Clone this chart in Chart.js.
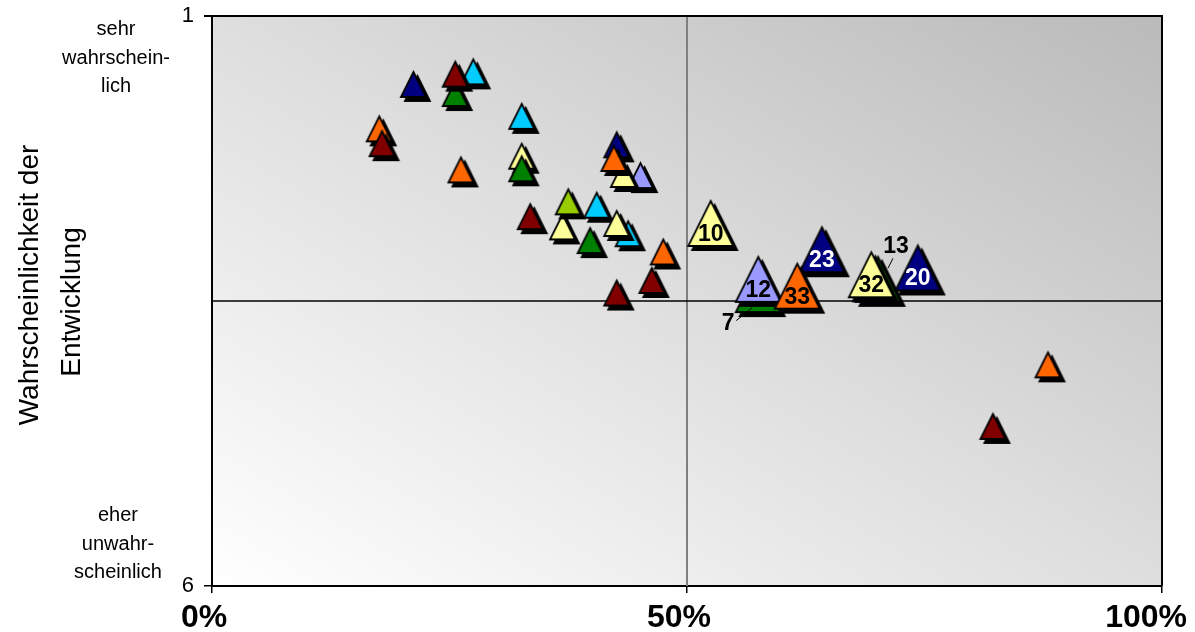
<!DOCTYPE html>
<html>
<head>
<meta charset="utf-8">
<script src="https://cdn.jsdelivr.net/npm/chart.js@4.4.0/dist/chart.umd.min.js"></script>
<style>
  html, body { margin: 0; padding: 0; background: #ffffff; }
  #chart { display: block; }
</style>
</head>
<body>
<canvas id="chart" width="1195" height="632"></canvas>
<script>
// Share of development (x, %) against probability rating (y: 1 = sehr wahrscheinlich, 6 = eher unwahrscheinlich)

const xTicks = [0, 50, 100];
const yTicks = [1, 6];
const midX = 50;
const midY = 3.5;

// Small markers, one series per colour
const darkRedX = [25.6, 17.9, 33.5, 46.3, 42.6, 82.2];
const darkRedY = [1.51, 2.12, 2.76, 3.32, 3.43, 4.60];

const greenX = [25.6, 32.6, 39.8];
const greenY = [1.68, 2.34, 2.97];

const orangeX = [17.6, 26.2, 42.3, 47.5, 88.0];
const orangeY = [1.99, 2.35, 2.25, 3.07, 4.06];

const navyX = [21.2, 42.6];
const navyY = [1.60, 2.13];

const yellowGreenX = [37.5];
const yellowGreenY = [2.63];

const paleYellowX = [32.6, 43.3, 36.9, 42.6];
const paleYellowY = [2.23, 2.39, 2.85, 2.82];

const cyanX = [27.5, 32.6, 40.5, 43.8];
const cyanY = [1.49, 1.88, 2.66, 2.91];

const lavenderX = [45.1];
const lavenderY = [2.40];

// Numbered key items, drawn larger
const keyLabels = ['7', '12', '23', '33', '13', '32', '20', '10'];
const keyX = [57.5, 57.5, 64.2, 61.6, 70.1, 69.4, 74.3, 52.5];
const keyY = [3.40, 3.31, 3.05, 3.37, 3.31, 3.27, 3.21, 2.82];

// Styles
const C = {
  darkRed: '#800000', green: '#008000', orange: '#ff6600', navy: '#000080',
  yellowGreen: '#99cc00', paleYellow: '#ffff99', cyan: '#00ccff', lavender: '#9999ff'
};
const keyColors = [C.green, C.lavender, C.navy, C.orange, C.green, C.paleYellow, C.navy, C.paleYellow];
const keyTextColors = ['#000', '#000', '#fff', '#000', '#000', '#000', '#fff', '#000'];
const FONT = "'Liberation Sans', Arial, Helvetica, sans-serif";

// Triangle marker with a black drop shadow, rendered to an offscreen canvas
function triangleMarker(fill, w, h) {
  const off = 4, lw = 1.8, pad = off + 4;
  const cw = Math.ceil(w + 2 * pad), ch = Math.ceil(h + 2 * pad);
  const c = document.createElement('canvas');
  c.width = cw; c.height = ch;
  const g = c.getContext('2d');
  const cx = cw / 2, cy = ch / 2;
  const path = (dx, dy) => {
    g.beginPath();
    g.moveTo(cx + dx, cy - h / 2 + dy);
    g.lineTo(cx + w / 2 + dx, cy + h / 2 + dy);
    g.lineTo(cx - w / 2 + dx, cy + h / 2 + dy);
    g.closePath();
  };
  g.lineJoin = 'miter';
  g.lineWidth = lw;
  g.strokeStyle = '#000';
  path(off, off);
  g.fillStyle = '#000';
  g.fill();
  g.stroke();
  path(0, 0);
  g.fillStyle = fill;
  g.fill();
  g.stroke();
  return c;
}

const toPoints = (xs, ys) => xs.map((x, i) => ({ x: x, y: ys[i] }));

function smallSeries(name, xs, ys, color) {
  return {
    label: name,
    data: toPoints(xs, ys),
    pointStyle: triangleMarker(color, 25, 25),
    pointRadius: 12,
    showLine: false,
    clip: false
  };
}

const keyMarkers = keyColors.map(col => triangleMarker(col, 45, 45));

const datasets = [
  smallSeries('darkRed', darkRedX, darkRedY, C.darkRed),
  smallSeries('green', greenX, greenY, C.green),
  smallSeries('orange', orangeX, orangeY, C.orange),
  smallSeries('navy', navyX, navyY, C.navy),
  smallSeries('yellowGreen', yellowGreenX, yellowGreenY, C.yellowGreen),
  smallSeries('paleYellow', paleYellowX, paleYellowY, C.paleYellow),
  smallSeries('cyan', cyanX, cyanY, C.cyan),
  smallSeries('lavender', lavenderX, lavenderY, C.lavender),
  {
    label: 'key',
    data: toPoints(keyX, keyY),
    pointStyle: ctx => keyMarkers[ctx.dataIndex],
    pointRadius: 22,
    showLine: false,
    clip: false
  }
];

// Plot background gradient, quadrant lines and frame
const backdrop = {
  id: 'backdrop',
  beforeDraw(chart) {
    const { ctx, chartArea: a } = chart;
    const w = a.right - a.left, h = a.bottom - a.top;
    const cx = (a.left + a.right) / 2, cy = (a.top + a.bottom) / 2;
    const L = Math.hypot(w, h);
    const ux = h / L, uy = -w / L, d = w * h / L;
    const grad = ctx.createLinearGradient(cx - ux * d, cy - uy * d, cx + ux * d, cy + uy * d);
    grad.addColorStop(0, '#ffffff');
    grad.addColorStop(0.5, '#dedede');
    grad.addColorStop(1, '#bababa');
    ctx.save();
    ctx.fillStyle = grad;
    ctx.fillRect(a.left, a.top, w, h);
    ctx.restore();
  },
  beforeDatasetsDraw(chart) {
    const { ctx, chartArea: a, scales } = chart;
    const px = scales.x.getPixelForValue(midX);
    const py = scales.y.getPixelForValue(midY);
    ctx.save();
    ctx.strokeStyle = '#7f7f7f';
    ctx.lineWidth = 2;
    ctx.beginPath();
    ctx.moveTo(px, a.top);
    ctx.lineTo(px, a.bottom);
    ctx.stroke();
    ctx.strokeStyle = '#000';
    ctx.lineWidth = 1.5;
    ctx.beginPath();
    ctx.moveTo(a.left, py);
    ctx.lineTo(a.right, py);
    ctx.stroke();
    // top and right frame
    ctx.lineWidth = 2;
    ctx.beginPath();
    ctx.moveTo(a.left - 8, a.top);
    ctx.lineTo(a.right, a.top);
    ctx.lineTo(a.right, a.bottom);
    ctx.stroke();
    ctx.restore();
  }
};

// Numbers on the key markers
const keyNumbers = {
  id: 'keyNumbers',
  afterDatasetsDraw(chart) {
    const { ctx } = chart;
    const meta = chart.getDatasetMeta(datasets.length - 1);
    ctx.save();
    ctx.font = `bold 23px ${FONT}`;
    ctx.textAlign = 'center';
    ctx.textBaseline = 'middle';
    meta.data.forEach((pt, i) => {
      const lab = keyLabels[i];
      if (lab === '7') {
        ctx.strokeStyle = '#000'; ctx.lineWidth = 1;
        ctx.beginPath(); ctx.moveTo(pt.x - 22, pt.y + 31); ctx.lineTo(pt.x - 6, pt.y + 18); ctx.stroke();
        ctx.fillStyle = '#000';
        ctx.fillText(lab, pt.x - 30, pt.y + 34);
      } else if (lab === '13') {
        ctx.strokeStyle = '#000'; ctx.lineWidth = 1;
        ctx.beginPath(); ctx.moveTo(pt.x + 15, pt.y - 21); ctx.lineTo(pt.x + 10, pt.y - 11); ctx.stroke();
        ctx.fillStyle = '#000';
        ctx.fillText(lab, pt.x + 18, pt.y - 33);
      } else {
        ctx.fillStyle = keyTextColors[i];
        ctx.fillText(lab, pt.x, pt.y + 11);
      }
    });
    ctx.restore();
  }
};

// Percentage labels under the x axis, kept inside the canvas
const xLabels = {
  id: 'xLabels',
  afterDraw(chart) {
    const { ctx, scales, width } = chart;
    const sx = scales.x;
    ctx.save();
    ctx.font = `bold 32px ${FONT}`;
    ctx.fillStyle = '#000';
    ctx.textAlign = 'center';
    ctx.textBaseline = 'middle';
    sx.ticks.forEach(t => {
      const txt = t.value + '%';
      const half = ctx.measureText(txt).width / 2;
      let px = sx.getPixelForValue(t.value) - 8;
      px = Math.min(px, width - 8 - half);
      ctx.fillText(txt, px, sx.bottom - 14);
    });
    ctx.restore();
  }
};

// Axis title and end descriptions on the left
const sideText = {
  id: 'sideText',
  afterDraw(chart) {
    const { ctx, chartArea: a } = chart;
    ctx.save();
    ctx.fillStyle = '#000';
    ctx.textAlign = 'center';
    ctx.textBaseline = 'alphabetic';
    ctx.font = `20px ${FONT}`;
    ['sehr', 'wahrschein-', 'lich'].forEach((t, i) => ctx.fillText(t, 116, a.top + 19 + i * 28.5));
    ['eher', 'unwahr-', 'scheinlich'].forEach((t, i) => ctx.fillText(t, 118, a.bottom - 65 + i * 28.5));
    ctx.font = `28px ${FONT}`;
    ctx.textBaseline = 'middle';
    [['Wahrscheinlichkeit der', 30, 285], ['Entwicklung', 72, 302]].forEach(([t, x, y]) => {
      ctx.save();
      ctx.translate(x, y);
      ctx.rotate(-Math.PI / 2);
      ctx.fillText(t, 0, 0);
      ctx.restore();
    });
    ctx.restore();
  }
};

new Chart(document.getElementById('chart'), {
  type: 'scatter',
  data: { datasets },
  plugins: [backdrop, keyNumbers, xLabels, sideText],
  options: {
    responsive: false,
    animation: false,
    events: [],
    layout: { autoPadding: false, padding: { left: 0, right: 33, top: 16, bottom: 0 } },
    plugins: { legend: { display: false }, tooltip: { enabled: false } },
    scales: {
      x: {
        type: 'linear', position: 'bottom', min: 0, max: 100,
        afterBuildTicks: s => { s.ticks = xTicks.map(v => ({ value: v })); },
        afterFit: s => { s.height = 46; s.paddingLeft = 0; s.paddingRight = 0; },
        grid: { display: true, drawOnChartArea: false, drawTicks: true, tickLength: 7, color: '#000', lineWidth: 1.5 },
        border: { display: true, color: '#000', width: 2 },
        ticks: { display: false }
      },
      y: {
        type: 'linear', position: 'left', min: 1, max: 6, reverse: true,
        afterBuildTicks: s => { s.ticks = yTicks.map(v => ({ value: v })); },
        afterFit: s => { s.width = 212; s.paddingTop = 0; s.paddingBottom = 0; },
        grid: { display: true, drawOnChartArea: false, drawTicks: true, tickLength: 8, color: '#000', lineWidth: 1.5 },
        border: { display: true, color: '#000', width: 2 },
        ticks: {
          font: { family: FONT, size: 22 },
          color: '#000', padding: 10, autoSkip: false
        }
      }
    }
  }
});
</script>
</body>
</html>
